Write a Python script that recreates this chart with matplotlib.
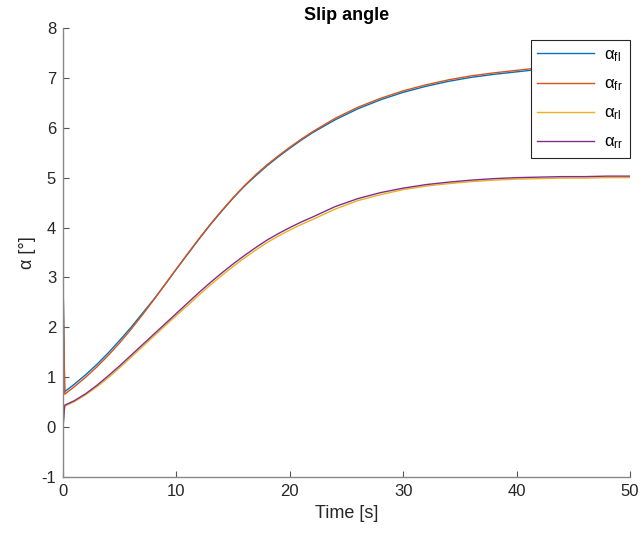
import numpy as np
import matplotlib
matplotlib.use('Agg')
from matplotlib import pyplot as plt

plt.rcParams['font.family'] = ['Liberation Sans', 'DejaVu Sans']
plt.rcParams['mathtext.fontset'] = 'custom'
plt.rcParams['mathtext.rm'] = 'Liberation Sans'
plt.rcParams['axes.unicode_minus'] = False

# time [s]
t = [0, 0.15, 1, 2, 3, 4, 5, 6, 7, 8, 9, 10, 11, 12, 13, 14, 15, 16, 17, 18, 19,
     20, 21, 22, 24, 26, 28, 30, 32, 34, 36, 38, 40, 42, 44, 46, 48, 50]

# slip angles [deg]
alpha_fl = [3.0, 0.71, 0.86, 1.05, 1.26, 1.49, 1.74, 2.00, 2.28, 2.56, 2.86, 3.17,
            3.47, 3.77, 4.06, 4.33, 4.59, 4.83, 5.04, 5.24, 5.42, 5.59, 5.75, 5.90,
            6.16, 6.38, 6.56, 6.71, 6.83, 6.93, 7.01, 7.07, 7.12, 7.17, 7.21, 7.25, 7.29, 7.32]
alpha_fr = [3.0, 0.66, 0.81, 1.00, 1.21, 1.44, 1.69, 1.96, 2.25, 2.55, 2.86, 3.17,
            3.48, 3.78, 4.07, 4.34, 4.60, 4.84, 5.06, 5.26, 5.44, 5.61, 5.77, 5.92,
            6.19, 6.41, 6.59, 6.74, 6.86, 6.96, 7.04, 7.10, 7.15, 7.20, 7.24, 7.28, 7.32, 7.35]
alpha_rl = [0.0, 0.42, 0.51, 0.65, 0.81, 0.99, 1.19, 1.40, 1.61, 1.82, 2.03, 2.24,
            2.44, 2.65, 2.85, 3.04, 3.22, 3.39, 3.55, 3.70, 3.83, 3.95, 4.06, 4.16,
            4.37, 4.54, 4.66, 4.76, 4.83, 4.88, 4.92, 4.95, 4.97, 4.98, 4.99, 4.99, 5.00, 5.00]
alpha_rr = [0.0, 0.44, 0.53, 0.67, 0.84, 1.03, 1.23, 1.44, 1.65, 1.86, 2.07, 2.28,
            2.49, 2.70, 2.90, 3.09, 3.27, 3.44, 3.60, 3.75, 3.88, 4.00, 4.11, 4.21,
            4.42, 4.58, 4.70, 4.79, 4.86, 4.91, 4.95, 4.98, 5.00, 5.01, 5.02, 5.02, 5.03, 5.03]

fig = plt.figure(figsize=(6.43, 5.37), dpi=100)
ax = fig.add_axes([0.098, 0.1117, 0.882, 0.8363])

ax.plot(t, alpha_fl, color='#0072BD', lw=1.0, label=r'$\mathregular{\alpha_{fl}}$')
ax.plot(t, alpha_fr, color='#D95319', lw=1.0, label=r'$\mathregular{\alpha_{fr}}$')
ax.plot(t, alpha_rl, color='#EDB120', lw=1.0, label=r'$\mathregular{\alpha_{rl}}$')
ax.plot(t, alpha_rr, color='#7E2F8E', lw=1.0, label=r'$\mathregular{\alpha_{rr}}$')

ax.set_xlim(0, 50)
ax.set_ylim(-1, 8)
ax.set_xticks(range(0, 51, 10))
ax.set_yticks(range(-1, 9))
ax.spines['top'].set_visible(False)
ax.spines['right'].set_visible(False)
for s in ('left', 'bottom'):
    ax.spines[s].set_color('#888888')
    ax.spines[s].set_linewidth(1.0)
ax.tick_params(direction='in', length=4, color='#555555', labelsize=12,
               labelcolor='#262626', pad=5)

ax.set_xlabel('Time [s]', fontsize=13, color='#262626', labelpad=4)
ax.set_ylabel('α [°]', fontsize=13, color='#262626', labelpad=4)
ax.set_title('Slip angle', fontsize=13, fontweight='bold', pad=5.5)

leg = ax.legend(loc='upper right', bbox_to_anchor=(1.0, 0.972), borderaxespad=0,
                fontsize=12, fancybox=False, framealpha=1, edgecolor='#262626',
                handlelength=3.4, handletextpad=0.6, labelspacing=0.75, borderpad=0.4)
leg.get_frame().set_linewidth(0.8)

fig.savefig('out.png', dpi=100)
